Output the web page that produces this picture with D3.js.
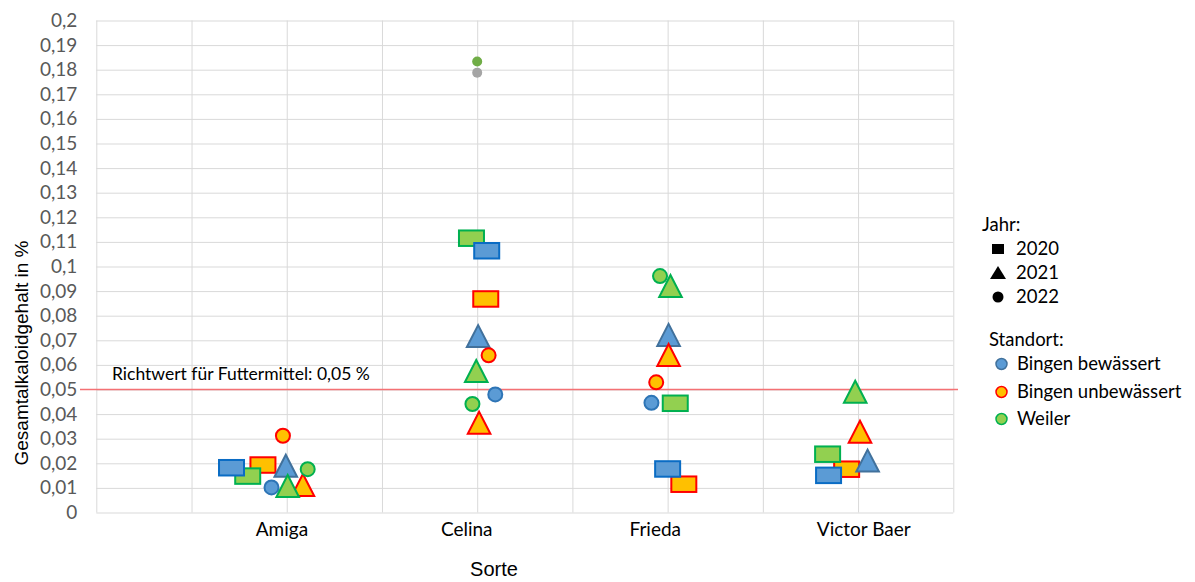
<!DOCTYPE html>
<html>
<head>
<meta charset="utf-8">
<script src="https://cdnjs.cloudflare.com/ajax/libs/d3/7.8.5/d3.min.js"></script>
<style>
  body { margin: 0; background: #fff; }
  svg { display: block; }
  .grid line { stroke: #d9d9d9; stroke-width: 1; }
  .grid .domain { display: none; }
  .axis--y text { font-family: Lato, sans-serif; font-size: 19px; fill: #595959; }
  .axis--y .domain, .axis--y line { display: none; }
  .lbl { font-family: Lato, sans-serif; font-size: 18.5px; fill: #000; }
  .title { font-family: "Liberation Sans", Arial, sans-serif; fill: #000; }
</style>
</head>
<body>
<script>
// Sorten und Beschriftung
var sorten = ["Amiga", "Celina", "Frieda", "Victor Baer"];
var sortenLabelX = [1.95, 3.89, 5.87, 8.06];
var yTicks = [0, 0.01, 0.02, 0.03, 0.04, 0.05, 0.06, 0.07, 0.08, 0.09, 0.1,
              0.11, 0.12, 0.13, 0.14, 0.15, 0.16, 0.17, 0.18, 0.19, 0.2];
var xGrid = [0, 1, 2, 3, 4, 5, 6, 7, 8, 9];

var jahre = ["2020", "2021", "2022"];
var standorte = ["Bingen bewässert", "Bingen unbewässert", "Weiler"];
var richtwert = 0.05;

// Werte je Standort/Jahr (Amiga, Celina, Frieda, Victor Baer) und x-Position
var bewaessert2020 = [0.0182, 0.1064, 0.0177, 0.0151];
var bewaessert2020x = [1.42, 4.10, 6.00, 7.69];
var bewaessert2021 = [0.0190, 0.0717, 0.0722, 0.0211];
var bewaessert2021x = [1.99, 4.01, 6.01, 8.10];
var bewaessert2022 = [0.0102, 0.0480, 0.0446, null];
var bewaessert2022x = [1.84, 4.19, 5.83, null];

var unbewaessert2020 = [0.0193, 0.0868, 0.0115, 0.0176];
var unbewaessert2020x = [1.75, 4.09, 6.17, 7.88];
var unbewaessert2021 = [0.0112, 0.0365, 0.0640, 0.0328];
var unbewaessert2021x = [2.17, 4.02, 6.01, 8.02];
var unbewaessert2022 = [0.0312, 0.0639, 0.0529, null];
var unbewaessert2022x = [1.96, 4.12, 5.88, null];

var weiler2020 = [0.0148, 0.1115, 0.0444, 0.0237];
var weiler2020x = [1.59, 3.94, 6.08, 7.68];
var weiler2021 = [0.0108, 0.0575, 0.0921, 0.0491];
var weiler2021x = [2.01, 3.99, 6.03, 7.97];
var weiler2022 = [0.0176, 0.0441, 0.0961, null];
var weiler2022x = [2.22, 3.95, 5.92, null];

// zwei kleine Punkte bei Celina
var extraWerte = [0.1833, 0.1788];
var extraX = [4.0, 4.0];
var extraFarben = ["#70ad47", "#a5a5a5"];

var fills = ["#5b9bd5", "#ffc000", "#92d050"];
var strokes = ["#2e75b6", "#ff0000", "#00b050"];
var blueStroke = ["#0a6cc4", "#41719c", "#2e75b6"];

var svg = d3.select("body").append("svg").attr("width", 1195).attr("height", 582);

var x = d3.scaleLinear().domain([0, 9]).range([96.3, 953.3]),
    y = d3.scaleLinear().domain([0, 0.2]).range([512.5, 20.5]);

// Gitter
svg.append("g")
    .attr("class", "grid")
    .attr("transform", "translate(" + x(0) + ",0)")
    .call(d3.axisLeft(y).tickValues(yTicks).tickSize(-(x(9) - x(0))).tickFormat(""));

svg.append("g")
    .attr("class", "grid")
    .attr("transform", "translate(0," + y(0) + ")")
    .call(d3.axisBottom(x).tickValues(xGrid).tickSize(-(y(0) - y(0.2))).tickFormat(""));

// y-Achse
svg.append("g")
    .attr("class", "axis axis--y")
    .attr("transform", "translate(" + x(0) + ",0)")
    .call(d3.axisLeft(y).tickValues(yTicks).tickSize(0).tickPadding(19)
      .tickFormat(function(d) { return String(+d.toFixed(2)).replace(".", ","); }));

// Richtwert
svg.append("line")
    .attr("x1", 80).attr("x2", 958)
    .attr("y1", y(richtwert)).attr("y2", y(richtwert))
    .attr("stroke", "#f47174").attr("stroke-width", 1.5);

svg.append("text")
    .attr("class", "lbl")
    .attr("x", 112).attr("y", y(richtwert) - 10)
    .style("font-size", "17.5px")
    .text("Richtwert für Futtermittel: 0,05 %");

// Sortennamen
svg.selectAll(".sorte")
  .data(sorten)
  .enter().append("text")
    .attr("class", "lbl sorte")
    .attr("x", function(d, i) { return x(sortenLabelX[i]); })
    .attr("y", 536)
    .attr("text-anchor", "middle")
    .style("font-size", "19px")
    .text(function(d) { return d; });

// Achsentitel
svg.append("text")
    .attr("class", "title")
    .attr("transform", "translate(28,353) rotate(-90)")
    .attr("text-anchor", "middle")
    .style("font-size", "19px")
    .text("Gesamtalkaloidgehalt in %");

svg.append("text")
    .attr("class", "title")
    .attr("x", 494).attr("y", 576)
    .attr("text-anchor", "middle")
    .style("font-size", "20px")
    .text("Sorte");

// Marker
function marker(g, jahr, cx, cy, fill, stroke) {
  if (jahr == 0) {
    g.append("rect")
      .attr("x", cx - 12.5).attr("y", cy - 7.75)
      .attr("width", 25).attr("height", 15.5)
      .attr("fill", fill).attr("stroke", stroke).attr("stroke-width", 2);
  } else if (jahr == 1) {
    g.append("path")
      .attr("d", "M" + cx + "," + (cy - 11) + "L" + (cx + 11.3) + "," + (cy + 11) + "L" + (cx - 11.3) + "," + (cy + 11) + "Z")
      .attr("fill", fill).attr("stroke", stroke).attr("stroke-width", 2);
  } else {
    g.append("circle")
      .attr("cx", cx).attr("cy", cy).attr("r", 7)
      .attr("fill", fill).attr("stroke", stroke).attr("stroke-width", 2);
  }
}

// Zeichenreihenfolge wie im Original
var serien = [
  {ort: 1, jahr: 0, werte: unbewaessert2020, xs: unbewaessert2020x},
  {ort: 2, jahr: 0, werte: weiler2020, xs: weiler2020x},
  {ort: 0, jahr: 0, werte: bewaessert2020, xs: bewaessert2020x},
  {ort: 0, jahr: 1, werte: bewaessert2021, xs: bewaessert2021x},
  {ort: 1, jahr: 1, werte: unbewaessert2021, xs: unbewaessert2021x},
  {ort: 0, jahr: 2, werte: bewaessert2022, xs: bewaessert2022x},
  {ort: 1, jahr: 2, werte: unbewaessert2022, xs: unbewaessert2022x},
  {ort: 2, jahr: 2, werte: weiler2022, xs: weiler2022x},
  {ort: 2, jahr: 1, werte: weiler2021, xs: weiler2021x}
];

var pts = svg.append("g").attr("class", "points");
serien.forEach(function(s) {
  s.werte.forEach(function(v, i) {
    if (v == null) return;
    var st = s.ort == 0 ? blueStroke[s.jahr] : strokes[s.ort];
    marker(pts, s.jahr, x(s.xs[i]), y(v), fills[s.ort], st);
  });
});

pts.selectAll(".extra")
  .data(extraWerte)
  .enter().append("circle")
    .attr("class", "extra")
    .attr("cx", function(d, i) { return x(extraX[i]); })
    .attr("cy", function(d) { return y(d); })
    .attr("r", 5)
    .attr("fill", function(d, i) { return extraFarben[i]; });

// Legende
var leg = svg.append("g").attr("class", "legend");
leg.append("text").attr("class", "lbl").attr("x", 982).attr("y", 231).text("Jahr:");
var jy = [249, 273, 297];
jahre.forEach(function(j, i) {
  var cy = jy[i];
  if (i == 0) leg.append("rect").attr("x", 992).attr("y", cy - 5).attr("width", 12).attr("height", 10).attr("fill", "#000");
  else if (i == 1) leg.append("path").attr("d", "M998," + (cy - 7) + "L1006," + (cy + 6) + "L990," + (cy + 6) + "Z").attr("fill", "#000");
  else leg.append("circle").attr("cx", 998).attr("cy", cy).attr("r", 5.5).attr("fill", "#000");
  leg.append("text").attr("class", "lbl").attr("x", 1016).attr("y", cy + 6).text(j);
});

leg.append("text").attr("class", "lbl").attr("x", 989).attr("y", 346).text("Standort:");
var sy = [364, 392, 419];
standorte.forEach(function(s, i) {
  leg.append("circle").attr("cx", 1001.5).attr("cy", sy[i]).attr("r", 5.5)
    .attr("fill", fills[i]).attr("stroke", i == 0 ? "#41719c" : strokes[i]).attr("stroke-width", 1.5);
  leg.append("text").attr("class", "lbl").attr("x", 1017).attr("y", sy[i] + 6).text(s);
});
</script>
</body>
</html>
